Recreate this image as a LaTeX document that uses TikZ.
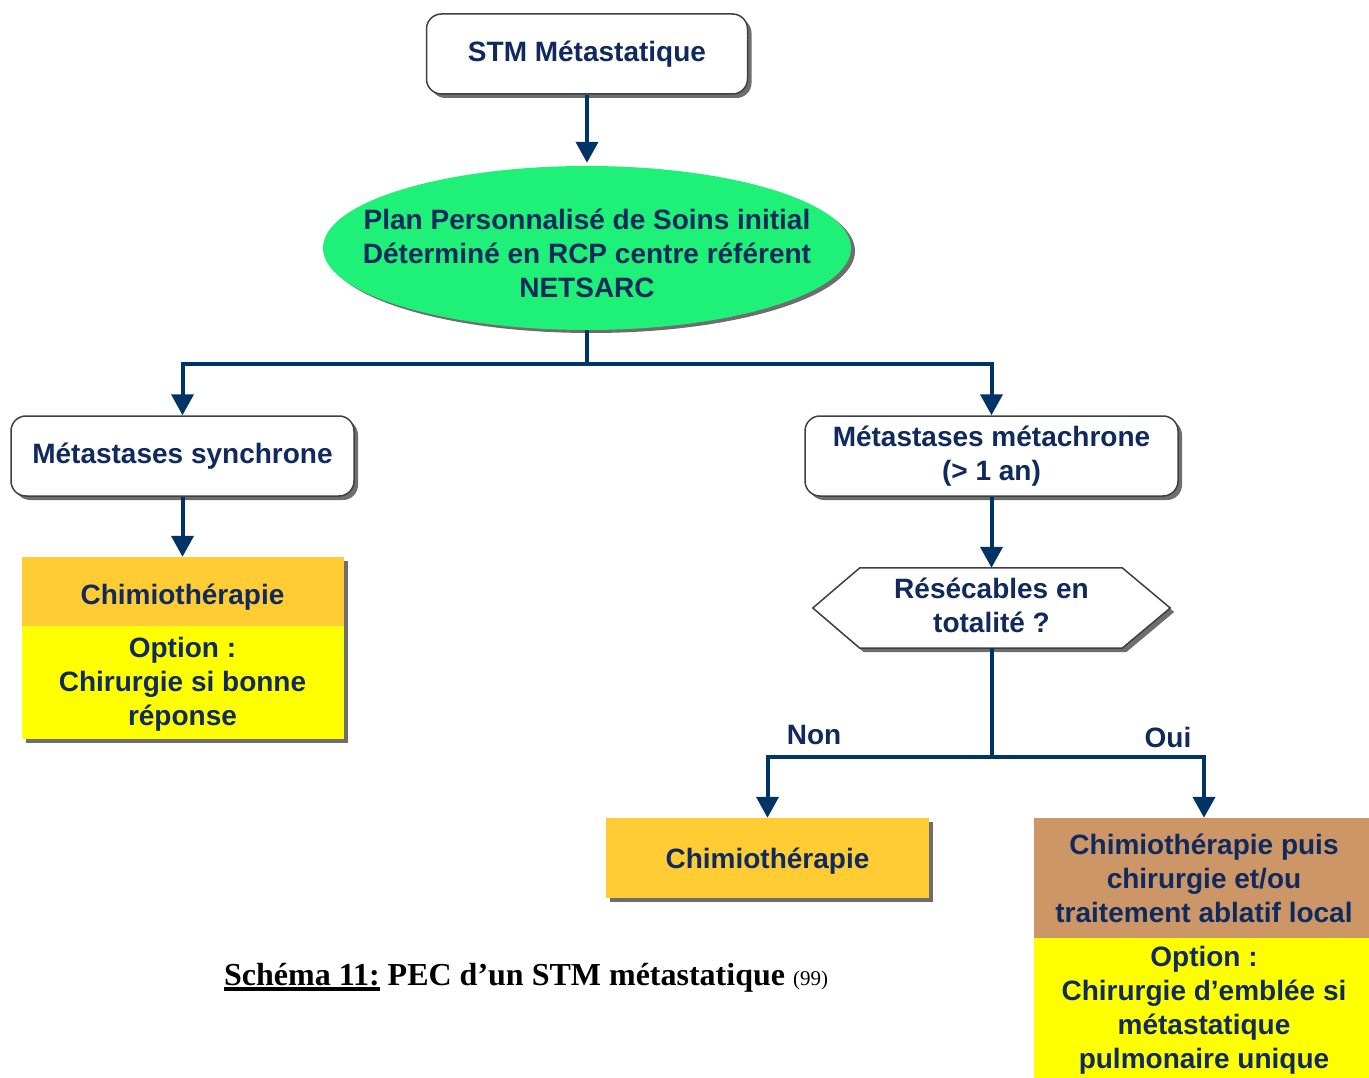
\documentclass[tikz,border=0pt]{standalone}
\usepackage{fontspec}
\setmainfont{Liberation Sans}
\newfontfamily\capfont{Liberation Serif}
\usetikzlibrary{arrows.meta,shadows,positioning,shapes.geometric}
\definecolor{txtblue}{RGB}{16,42,94}
\definecolor{arrblue}{RGB}{0,51,102}
\definecolor{ellgreen}{RGB}{30,240,120}
\definecolor{orangebox}{RGB}{255,204,51}
\definecolor{brownbox}{RGB}{204,150,102}
\definecolor{yellowbox}{RGB}{255,255,0}
\definecolor{shadowgray}{RGB}{110,110,110}
\newcommand\thickul[1]{\setbox0\hbox{#1}\rlap{\rule[-6pt]{\wd0}{4pt}}\box0\relax}
\tikzset{
  boxtext/.style={font=\fontsize{28}{34}\selectfont\bfseries, text=txtblue, align=center},
  roundbox/.style={boxtext, draw=black!75, line width=1.5pt, fill=white, rounded corners=15pt,
     inner sep=0pt, drop shadow={shadow xshift=4pt, shadow yshift=-4pt, opacity=1, fill=shadowgray}},
  flatbox/.style={boxtext, inner sep=0pt, draw=none},
  conn/.style={draw=arrblue, line width=4pt},
  arr/.style={conn, -{Triangle[width=22pt,length=21pt]}},
}
\begin{document}
\begin{tikzpicture}[x=1pt,y=-1pt]
\path[use as bounding box, fill=white] (0,0) rectangle (1369,1078);

% top box
\node[roundbox, minimum width=321pt, minimum height=80pt] (stm) at (587,54) {STM Métastatique};

% ellipse
\node[minimum width=528pt, minimum height=164pt, inner sep=0pt] (ell) at (587,248) {};
\fill[shadowgray] ([xshift=4pt,yshift=-3pt]ell.center) ellipse [x radius=264pt, y radius=82pt];
\fill[ellgreen] (ell.center) ellipse [x radius=264pt, y radius=82pt];
\node[boxtext, yshift=-5pt] (elltxt) at (ell.center)
  {Plan Personnalisé de Soins initial\\Déterminé en RCP centre référent\\NETSARC};

% level 2 boxes
\node[roundbox, minimum width=343pt, minimum height=80pt] (syn) at (182.5,456) {Métastases synchrone};
\node[roundbox, minimum width=373pt, minimum height=80pt] (met) at (991.5,456) {Métastases métachrone\\(> 1 an)};

% left stacked box
\fill[shadowgray] (26,561) rectangle (348,743);
\node[flatbox, fill=orangebox, minimum width=322pt, minimum height=69pt] (chl) at (182.5,591.5) {};
\node[boxtext] (chltxt) at ([yshift=-6pt]chl.center) {Chimiothérapie};
\node[flatbox, fill=yellowbox, minimum width=322pt, minimum height=113pt] (optl) at (182.5,682.5) {};
\node[boxtext] (optltxt) at ([yshift=-2pt]optl.center) {Option :\\Chirurgie si bonne\\réponse};

% hexagon
\node[minimum width=357pt, minimum height=80pt, inner sep=0pt] (hex) at (991.5,608) {};
\fill[shadowgray] ([xshift=4pt,yshift=-4pt]hex.west) -- ([xshift=51pt,yshift=-4pt]hex.north west)
  -- ([xshift=-44pt,yshift=-4pt]hex.north east) -- ([xshift=4pt,yshift=-4pt]hex.east)
  -- ([xshift=-44pt,yshift=-4pt]hex.south east) -- ([xshift=51pt,yshift=-4pt]hex.south west) -- cycle;
\draw[black!75, line width=1.5pt, fill=white] (hex.west) -- ([xshift=47pt]hex.north west)
  -- ([xshift=-48pt]hex.north east) -- (hex.east)
  -- ([xshift=-48pt]hex.south east) -- ([xshift=47pt]hex.south west) -- cycle;
\node[boxtext] (hextxt) at ([yshift=3pt]hex.center) {Résécables en\\totalité ?};

% bottom boxes
\fill[shadowgray] (610,822) rectangle (933,902);
\node[flatbox, fill=orangebox, minimum width=323pt, minimum height=80pt] (chm) at (767.5,858) {};
\node[boxtext] (chmtxt) at ([yshift=-3pt]chm.center) {Chimiothérapie};
\node[flatbox, fill=brownbox, minimum width=340pt, minimum height=120pt] (chr) at (1204,878)
  {Chimiothérapie puis\\chirurgie et/ou\\traitement ablatif local};
\node[flatbox, fill=yellowbox, minimum width=340pt, minimum height=140pt] (optr) at (1204,1008) {};
\node[boxtext] (optrtxt) at ([yshift=-2pt]optr.center)
  {Option :\\Chirurgie d’emblée si\\métastatique\\pulmonaire unique};

% connectors
\draw[arr] (stm.south) -- ([yshift=3pt]ell.north);
\coordinate (j1) at (587,364);
\draw[conn] (ell.south) -- (j1);
\draw[arr] (j1) -| (syn.north);
\draw[arr] (j1) -| (met.north);
\draw[arr] (syn.south) -- (chl.north);
\draw[arr] (met.south) -- (hex.north);
\coordinate (j2) at (991.5,757);
\draw[conn] (hex.south) -- (j2);
\draw[arr] (j2) -| (chm.north);
\draw[arr] (j2) -| (chr.north);

% labels
\node[boxtext] (non) at (814,735) {Non};
\node[boxtext] (oui) at (1168,737) {Oui};

% caption
\node[anchor=base west, inner sep=0pt] (cap) at (224,985)
  {\capfont\bfseries\fontsize{32}{36}\selectfont \thickul{Schéma 11:} PEC d’un STM métastatique {\mdseries\fontsize{21}{24}\selectfont (99)}};
\end{tikzpicture}
\end{document}
